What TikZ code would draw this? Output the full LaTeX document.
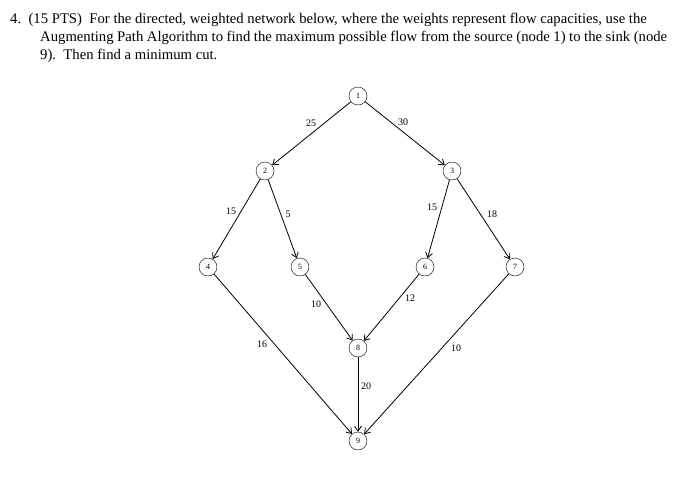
\documentclass[tikz,border=0pt]{standalone}
\usepackage{fontspec}
\setmainfont{Liberation Serif}
\usetikzlibrary{arrows.meta}
\begin{document}
\begin{tikzpicture}[x=1pt,y=-1pt,
  vert/.style={circle,draw,inner sep=0pt,minimum size=18pt,font=\fontsize{8}{9}\selectfont},
  edge/.style={draw,line width=0.8pt,-{Straight Barb[length=5pt,width=7pt]}},
  wt/.style={font=\fontsize{10}{11}\selectfont},
  txt/.style={anchor=west,inner sep=0pt,font=\fontsize{14.7}{16}\selectfont}]
\useasboundingbox (0,0) rectangle (697,477);
\node[txt,text width=657pt,align=justify] (t1) at (10,20) {4.\ \ (15 PTS)\ \ For the directed, weighted network below, where the weights represent flow capacities, use the};
\node[txt,text width=627pt,align=justify] (t2) at (40,38) {Augmenting Path Algorithm to find the maximum possible flow from the source (node 1) to the sink (node};
\node[txt] (t3) at (40,56) {9).\ \ Then find a minimum cut.};
\node[vert] (n1) at (358,96) {1};
\node[vert] (n2) at (265,171) {2};
\node[vert] (n3) at (452,171) {3};
\node[vert] (n4) at (208,267) {4};
\node[vert] (n5) at (300,267) {5};
\node[vert] (n6) at (425,267) {6};
\node[vert] (n7) at (515,267) {7};
\node[vert] (n8) at (358,348) {8};
\node[vert] (n9) at (358,441) {9};
\draw[edge] (n1) -- (n2);
\draw[edge] (n1) -- (n3);
\draw[edge] (n2) -- (n4);
\draw[edge] (n2) -- (n5);
\draw[edge] (n3) -- (n6);
\draw[edge] (n3) -- (n7);
\draw[edge] (n4) -- (n9);
\draw[edge] (n5) -- (n8);
\draw[edge] (n6) -- (n8);
\draw[edge] (n7) -- (n9);
\draw[edge] (n8) -- (n9);
\node[wt] (w12) at (311,123) {25};
\node[wt] (w13) at (403,122) {30};
\node[wt] (w24) at (231,211) {15};
\node[wt] (w25) at (288,214) {5};
\node[wt] (w36) at (432,207) {15};
\node[wt] (w37) at (492,214) {18};
\node[wt] (w58) at (316,304) {10};
\node[wt] (w68) at (410,298) {12};
\node[wt] (w49) at (262,344) {16};
\node[wt] (w79) at (456,348) {10};
\node[wt] (w89) at (366,386) {20};
\end{tikzpicture}
\end{document}
